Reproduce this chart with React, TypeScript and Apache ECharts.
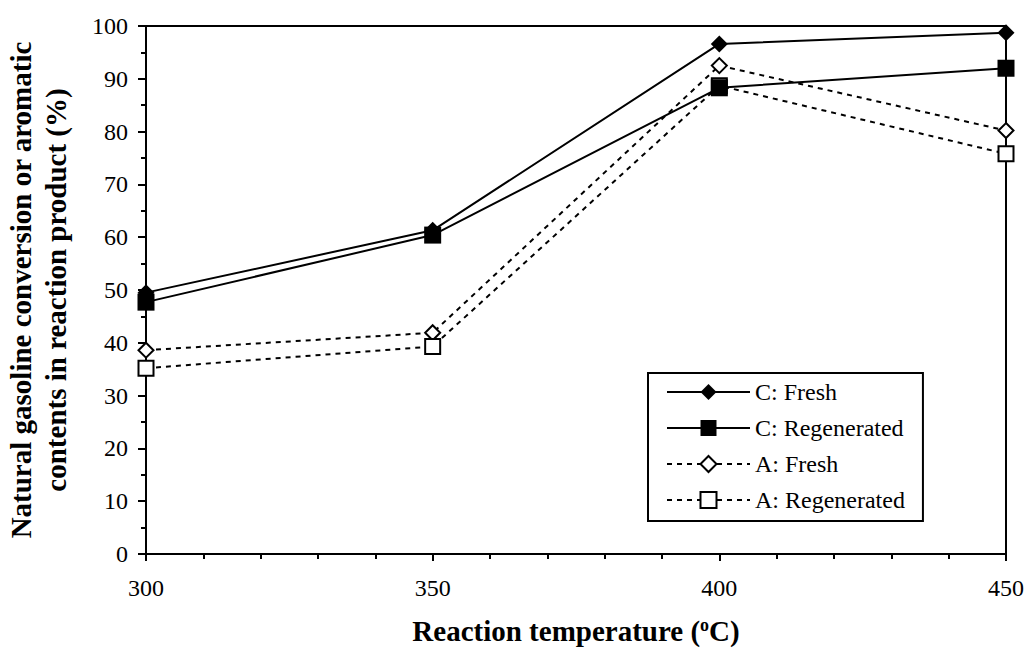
import React, { useEffect, useRef } from "react";
import * as echarts from "echarts";

const temperatures = [300, 350, 400, 450];
const cFresh = [49.5, 61.3, 96.6, 98.7];
const cRegenerated = [47.7, 60.4, 88.3, 92.0];
const aFresh = [38.6, 41.9, 92.5, 80.2];
const aRegenerated = [35.2, 39.3, 88.7, 75.8];
const seriesNames = ["C: Fresh", "C: Regenerated", "A: Fresh", "A: Regenerated"];

const FONT = "Times New Roman, Liberation Serif, DejaVu Serif, serif";

function pairs(vals: number[]) {
  return temperatures.map((t, i) => [t, vals[i]]);
}

export default function App() {
  const ref = useRef<HTMLDivElement>(null);
  useEffect(() => {
    if (!ref.current) return;
    const chart = echarts.init(ref.current, undefined, { renderer: "svg" });
    const solid = { color: "#000", width: 2, type: "solid" as const };
    const dashed = { color: "#000", width: 2, type: [5, 5] as any };
    chart.setOption({
      animation: false,
      backgroundColor: "#fff",
      textStyle: { fontFamily: FONT, color: "#000" },
      grid: {
        left: 146,
        right: 22,
        top: 26,
        bottom: 94,
        containLabel: false,
        outerBoundsMode: "none",
        show: true,
        borderColor: "#000",
        borderWidth: 2,
      },
      legend: {
        orient: "vertical",
        left: 648,
        top: 373,
        padding: [7, 18, 9, 18],
        itemGap: 12,
        itemWidth: 83,
        itemHeight: 20,
        borderColor: "#000",
        borderWidth: 2,
        backgroundColor: "#fff",
        data: seriesNames,
        textStyle: { fontFamily: FONT, fontSize: 24, color: "#000", lineHeight: 24 },
      },
      xAxis: {
        type: "value",
        min: 300,
        max: 450,
        interval: 50,
        axisLine: { show: true, lineStyle: { color: "#000", width: 2 } },
        axisTick: { show: true, length: 7, lineStyle: { color: "#000", width: 2 } },
        minorTick: { show: true, splitNumber: 5, length: 5, lineStyle: { color: "#000", width: 2 } },
        splitLine: { show: false },
        axisLabel: { fontFamily: FONT, fontSize: 24, color: "#000", margin: 22 },
        name: "Reaction temperature (" + "{sup|o}" + "C)",
        nameLocation: "middle",
        nameGap: 62,
        nameTextStyle: {
          fontFamily: FONT,
          fontSize: 29,
          lineHeight: 30,
          fontWeight: "bold",
          color: "#000",
          rich: {
            sup: { fontFamily: FONT, fontSize: 18, lineHeight: 18, fontWeight: "bold", verticalAlign: "top", padding: [0, 0, 10, 0], color: "#000" },
          },
        },
      },
      yAxis: {
        type: "value",
        min: 0,
        max: 100,
        interval: 10,
        axisLine: { show: true, lineStyle: { color: "#000", width: 2 } },
        axisTick: { show: true, length: 8, lineStyle: { color: "#000", width: 2 } },
        minorTick: { show: true, splitNumber: 2, length: 5, lineStyle: { color: "#000", width: 2 } },
        splitLine: { show: false },
        axisLabel: { fontFamily: FONT, fontSize: 24, color: "#000", margin: 18 },
        name: "Natural gasoline conversion or aromatic\ncontents in reaction product (%)",
        nameLocation: "middle",
        nameRotate: 90,
        nameGap: 73,
        nameTextStyle: {
          fontFamily: FONT,
          fontSize: 29,
          fontWeight: "bold",
          color: "#000",
          lineHeight: 35,
        },
      },
      series: [
        {
          name: seriesNames[0],
          type: "line",
          data: pairs(cFresh),
          symbol: "diamond",
          symbolSize: 17,
          lineStyle: solid,
          itemStyle: { color: "#000" },
          z: 4,
        },
        {
          name: seriesNames[1],
          type: "line",
          data: pairs(cRegenerated),
          symbol: "rect",
          symbolSize: 17,
          lineStyle: solid,
          itemStyle: { color: "#000" },
          z: 4,
        },
        {
          name: seriesNames[2],
          type: "line",
          data: pairs(aFresh),
          symbol: "diamond",
          symbolSize: 15,
          lineStyle: dashed,
          itemStyle: { color: "#fff", borderColor: "#000", borderWidth: 2 },
          z: 3,
        },
        {
          name: seriesNames[3],
          type: "line",
          data: pairs(aRegenerated),
          symbol: "rect",
          symbolSize: 15,
          lineStyle: dashed,
          itemStyle: { color: "#fff", borderColor: "#000", borderWidth: 2 },
          z: 3,
        },
      ],
    });
    return () => chart.dispose();
  }, []);
  return <div ref={ref} style={{ width: 1028, height: 648, position: "absolute", left: 0, top: 0 }} />;
}
